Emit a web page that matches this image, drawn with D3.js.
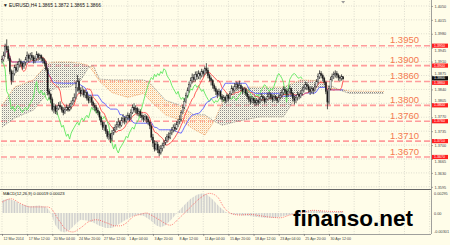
<!DOCTYPE html>
<html><head><meta charset="utf-8">
<script src="https://cdn.jsdelivr.net/npm/d3@7"></script>
<style>
html,body{margin:0;padding:0;background:#fffde9;}
svg{display:block;}
text{font-family:"Liberation Sans",Arial,sans-serif;}
</style></head><body>
<svg id="c" width="450" height="245"></svg>
<script>
// ---------------- DATA (prices in pips: 1 + v/10000) ----------------
const timeLabels = ["12 Mar 2014","17 Mar 12:00","20 Mar 04:00","24 Mar 20:00","27 Mar 12:00","1 Apr 04:00","3 Apr 20:00","8 Apr 12:00","11 Apr 04:00","15 Apr 20:00","18 Apr 12:00","23 Apr 04:00","25 Apr 20:00","30 Apr 12:00"];
const timeLabelBars = [0,16,32,48,64,80,96,112,128,144,160,176,192,208];
const gridBars = [0,16,32,48,64,80,96,112,128,144,160,176,192,208,224,240,256,272];
const priceTicks = ["1.4050","1.4015","1.3980","1.3945","1.3910","1.3875","1.3840","1.3805","1.3770","1.3735","1.3700","1.3665","1.3630","1.3595"];
const levels = ["1.3950","1.3900","1.3860","1.3800","1.3760","1.3710","1.3670"];
const lastPrice = "1.3866";
const header = "\u25BC EURUSD,H4  1.3865 1.3872 1.3865 1.3866";
const firstOpen = 3910;
const closes = [3915,3925,3948,3940,3918,3885,3862,3880,
 3895,3888,3902,3910,3905,3898,3906,3915,
 3925,3918,3926,3920,3912,3918,3928,3920,3925,3918,3912,3905,
 3890,3835,3828,3815,
 3790,3798,3785,3792,3800,3796,3788,3782,3790,3795,3788,3796,3805,3812,3820,
 3845,3860,3838,3830,
 3838,3826,3832,3818,3812,3820,3808,3800,3795,3788,3782,3770,
 3758,3745,3750,3735,3722,3728,3715,3730,3738,3745,
 3752,3758,3750,3762,3768,3760,3770,3775,3768,
 3782,3795,3788,3792,3780,3785,3775,
 3770,3765,3772,3765,3758,3748,3720,3705,
 3690,3702,3688,3680,3692,3698,3705,3712,
 3722,3718,3730,3738,3745,3740,3752,3758,3765,
 3782,3795,3810,3825,3838,3852,3862,
 3870,3865,3878,3872,3880,3875,3885,3880,3892,3888,3875,3868,
 3862,3850,3842,3835,3828,3835,3822,3815,3820,3812,3825,3818,3830,
 3842,3838,3848,3852,3845,3850,3842,3835,3840,3830,
 3822,3815,3810,3818,3812,3806,3812,3808,3815,
 3822,3818,3810,3815,3822,3828,3820,3815,3822,3818,3812,3820,3825,
 3832,3840,3835,3828,3835,3842,3830,3818,3812,3820,3828,3822,3830,
 3838,3845,3852,3848,3840,3835,3842,3838,3848,
 3860,3872,3880,3875,3868,3858,
 3835,3808,3842,
 3865,3872,3878,3880,3876,3870,3868,3872,3866];
const highs = [3925,3935,3955,3966,3950,3925,3890,3888,
 3902,3905,3910,3918,3915,3910,3912,3922,
 3935,3930,3932,3934,3926,3925,3936,3932,3930,3928,3922,3918,
 3912,3895,3842,3832,
 3820,3805,3802,3800,3808,3810,3800,3795,3796,3802,3800,3805,3812,3820,3830,
 3860,3876,3868,3845,
 3848,3842,3838,3835,3825,3826,3824,3812,3806,3800,3794,3786,
 3774,3762,3758,3752,3740,3735,3730,3738,3745,3752,
 3760,3768,3762,3770,3778,3772,3776,3782,3780,
 3790,3802,3805,3800,3796,3792,3790,
 3782,3776,3778,3775,3770,3762,3752,3728,
 3712,3710,3708,3698,3700,3706,3712,3720,
 3728,3732,3738,3745,3752,3755,3760,3766,3775,
 3788,3802,3818,3832,3845,3860,3870,
 3880,3878,3885,3886,3888,3885,3892,3890,3898,3906,3895,3880,
 3872,3866,3855,3848,3840,3842,3838,3828,3826,3824,3830,3828,3836,
 3850,3848,3856,3860,3858,3862,3855,3848,3846,3844,
 3835,3828,3822,3824,3820,3818,3818,3816,3822,
 3830,3826,3822,3820,3832,3835,3832,3826,3828,3826,3822,3826,3834,
 3840,3848,3846,3840,3842,3850,3845,3834,3824,3826,3835,3832,3838,
 3846,3852,3860,3858,3852,3846,3848,3846,3855,
 3866,3880,3888,3886,3880,3872,
 3862,3840,3850,
 3872,3880,3885,3888,3886,3880,3875,3878,3872];
const lows = [3905,3910,3922,3935,3912,3878,3852,3858,
 3875,3882,3884,3895,3896,3890,3892,3900,
 3910,3908,3912,3914,3905,3906,3912,3912,3914,3910,3905,3898,
 3885,3825,3815,3805,
 3785,3780,3778,3776,3788,3790,3782,3775,3778,3786,3784,3785,3790,3800,3808,
 3815,3835,3830,3822,
 3825,3820,3818,3812,3805,3806,3800,3792,3785,3780,3775,3762,
 3750,3738,3736,3728,3716,3712,3705,3710,3725,3732,
 3738,3744,3742,3746,3755,3752,3755,3762,3760,
 3764,3778,3782,3780,3774,3772,3768,
 3762,3758,3760,3755,3750,3740,3712,3695,
 3684,3686,3680,3672,3676,3684,3692,3700,
 3706,3712,3715,3725,3732,3734,3738,3745,3752,
 3760,3778,3790,3805,3820,3832,3845,
 3855,3858,3860,3864,3866,3865,3870,3872,3876,3880,3868,3860,
 3850,3842,3835,3826,3818,3822,3815,3808,3810,3805,3808,3810,3815,
 3826,3830,3834,3840,3838,3842,3836,3828,3830,3824,
 3815,3808,3802,3805,3804,3798,3800,3800,3804,
 3810,3810,3804,3806,3812,3815,3814,3808,3810,3812,3806,3808,3815,
 3818,3826,3828,3820,3822,3830,3822,3810,3802,3806,3812,3815,3818,
 3825,3832,3840,3838,3832,3826,3830,3828,3834,
 3845,3855,3866,3868,3860,3850,
 3828,3790,3802,
 3838,3860,3866,3870,3868,3862,3860,3862,3865];

// Ichimoku cloud (Senkou spans) at sample bars
const spanBars = [0,8,20,29,34,43,50,55,58,62,70,80,90,94,104,113,122,129,135,140,150,164,179,190,202,210,215,221,243];
const spanA = [3800,3846,3864,3906,3909,3909,3906,3900,3885,3860,3832,3820,3830,3813,3776,3763,3740,3725,3760,3806,3846,3846,3846,3864,3862,3842,3840,3836,3835];
const spanB = [3745,3768,3788,3831,3844,3846,3862,3895,3901,3866,3864,3864,3864,3856,3813,3800,3776,3776,3760,3750,3760,3771,3771,3839,3845,3848,3838,3830,3830];

// MACD (12,26,9), values x 1e-4, read at sample bars
const histBars = [0,4,8,12,18,24,28,30,32,34,37,40,43,47,50,54,58,62,66,70,74,78,82,86,90,94,98,101,104,108,112,116,120,124,127,130,134,138,142,146,150,156,162,168,174,180,186,192,198,204,208,212,217];
const histVals = [19,21,18,13,10,11,9,4,-6,-18,-27,-29,-25,-16,-10,-11,-14,-19,-22,-22,-17,-11,-6,-3,-4,-10,-18,-21,-18,-9,2,12,21,27,29,28,20,10,2,-2,-3,-4,-6,-7,-7,-4,-1,3,4,3,1,2,3];
const sigBars = [0,6,11,18,29,31,36,41,45,50,55,60,67,72,75,80,83,88,92,94,100,107,113,120,126,132,137,141,145,151,158,164,170,177,183,190,198,204,215,217];
const sigVals = [16,21,15,9,9,7,-10,-25,-28,-22,-13,-10,-15,-19,-19,-13,-6,-2,0,-2,-10,-18,-7,9,22,29,24,9,0,-3,-2,-4,-6,-7,-3,0,4,3,2,2];
const macdLabel = "MACD(12,26,9) 0.00019 0.00023";
const macdTicks = ["0.00295","0.00","-0.00301"];

// ---------------- CHART ----------------
const W = 450, H = 245;
const svg = d3.select("#c");
const P = v => 1 + v / 10000;
const bg = "#fffde9";
svg.append("rect").attr("width", W).attr("height", H).attr("fill", bg);

const px0 = 1, px1 = 431, py0 = 1, py1 = 189, my0 = 190, my1 = 234;
const x = d3.scaleLinear().domain([0, 273]).range([2, 431.2]);
const y = d3.scaleLinear().domain([1.3950, 1.3670]).range([45.7, 157]);
const ym = d3.scaleLinear().domain([-0.003, 0.003]).range([233.3, 192.7]);

const defs = svg.append("defs");
defs.append("clipPath").attr("id", "cm").append("rect").attr("x", px0).attr("y", py0).attr("width", px1 - px0).attr("height", py1 - py0);
defs.append("clipPath").attr("id", "cmacd").append("rect").attr("x", px0).attr("y", my0).attr("width", px1 - px0).attr("height", my1 - my0);
const pg = defs.append("pattern").attr("id", "pgray").attr("patternUnits", "userSpaceOnUse").attr("width", 2).attr("height", 2);
pg.append("rect").attr("x", 0).attr("y", 0).attr("width", 1).attr("height", 1).attr("fill", "#8c8c8c");
pg.append("rect").attr("x", 1).attr("y", 1).attr("width", 1).attr("height", 1).attr("fill", "#dcdcd2");
const po = defs.append("pattern").attr("id", "porange").attr("patternUnits", "userSpaceOnUse").attr("width", 2).attr("height", 2);
po.append("rect").attr("x", 0).attr("y", 0).attr("width", 1).attr("height", 1).attr("fill", "#f5b27c");
po.append("rect").attr("x", 1).attr("y", 1).attr("width", 1).attr("height", 1).attr("fill", "#fbe3c8");
const ph = defs.append("pattern").attr("id", "phist").attr("patternUnits", "userSpaceOnUse").attr("width", 1.572).attr("height", 4);
ph.append("rect").attr("x", 0).attr("y", 0).attr("width", 0.9).attr("height", 4).attr("fill", "#cbcbcb");

// grid
const grid = svg.append("g").attr("stroke", "#c9c9c0").attr("stroke-width", 0.6).attr("stroke-dasharray", "1,1.5");
grid.selectAll("line.h").data(priceTicks).join("line")
  .attr("x1", px0).attr("x2", px1).attr("y1", d => y(+d)).attr("y2", d => y(+d));
grid.selectAll("line.v").data(gridBars).join("line")
  .attr("x1", d => x(d)).attr("x2", d => x(d)).attr("y1", py0).attr("y2", my1);

const main = svg.append("g").attr("clip-path", "url(#cm)");

// level lines
main.selectAll("line.lvl").data(levels).join("line")
  .attr("x1", px0).attr("x2", px1).attr("y1", d => y(+d)).attr("y2", d => y(+d))
  .attr("stroke", "#ff9c9c").attr("stroke-width", 1.6).attr("stroke-dasharray", "6,3");

// cloud
const cloud = spanBars.map((b, i) => ({ b, a: P(spanA[i]), s: P(spanB[i]) }));
const aboveB = d3.area().x(d => x(d.b)).y0(0).y1(d => y(d.s));
const belowB = d3.area().x(d => x(d.b)).y0(300).y1(d => y(d.s));
defs.append("clipPath").attr("id", "cab").append("path").attr("d", aboveB(cloud));
defs.append("clipPath").attr("id", "cbb").append("path").attr("d", belowB(cloud));
const between = d3.area().x(d => x(d.b)).y0(d => y(d.s)).y1(d => y(d.a));
main.append("g").attr("clip-path", "url(#cab)").append("path").attr("d", between(cloud)).attr("fill", "url(#pgray)");
main.append("g").attr("clip-path", "url(#cbb)").append("path").attr("d", between(cloud)).attr("fill", "url(#porange)");
main.append("path").attr("d", d3.line().x(d => x(d.b)).y(d => y(d.a))(cloud))
  .attr("fill", "none").attr("stroke", "#eca26a").attr("stroke-width", 0.7).attr("stroke-dasharray", "1.5,1");
main.append("path").attr("d", d3.line().x(d => x(d.b)).y(d => y(d.s))(cloud))
  .attr("fill", "none").attr("stroke", "#8a8a8a").attr("stroke-width", 0.7).attr("stroke-dasharray", "1.5,1");

// Ichimoku lines computed from the candles
const n = closes.length;
const mid = (i, len) => {
  const s = Math.max(0, i - len + 1);
  return (d3.max(highs.slice(s, i + 1)) + d3.min(lows.slice(s, i + 1))) / 2;
};
const tenkan = d3.range(n).map(i => ({ b: i, v: P(mid(i, 9)) }));
const kijun = d3.range(n).map(i => ({ b: i, v: P(mid(i, 26)) }));
const chikou = d3.range(26, n).map(i => ({ b: i - 26, v: P(closes[i]) }));
const ln = d3.line().x(d => x(d.b)).y(d => y(d.v));
main.append("path").attr("d", ln(chikou)).attr("fill", "none").attr("stroke", "#5ee85e").attr("stroke-width", 0.9);
main.append("path").attr("d", ln(kijun)).attr("fill", "none").attr("stroke", "#5a5aff").attr("stroke-width", 0.9);
main.append("path").attr("d", ln(tenkan)).attr("fill", "none").attr("stroke", "#ff4a4a").attr("stroke-width", 0.9);

// candles
const candles = closes.map((c, i) => ({ i, o: P(i === 0 ? firstOpen : closes[i - 1]), c: P(c), h: P(highs[i]), l: P(lows[i]) }));
const cg = main.append("g");
cg.selectAll("line").data(candles).join("line")
  .attr("x1", d => x(d.i)).attr("x2", d => x(d.i)).attr("y1", d => y(d.h)).attr("y2", d => y(d.l))
  .attr("stroke", "#2a2a2a").attr("stroke-width", 0.8);
cg.selectAll("rect").data(candles).join("rect")
  .attr("x", d => x(d.i) - 0.6).attr("width", 1.2)
  .attr("y", d => y(Math.max(d.o, d.c))).attr("height", d => Math.max(0.6, Math.abs(y(d.o) - y(d.c))))
  .attr("fill", d => d.c >= d.o ? "#fff" : "#111").attr("stroke", "#2a2a2a").attr("stroke-width", 0.4);

// level labels
main.selectAll("text.lvl").data(levels).join("text")
  .attr("x", 419).attr("y", d => y(+d) - 2.5).attr("text-anchor", "end")
  .attr("font-size", 9.5).attr("fill", "#f47a50").text(d => d);

// chart shift marker
svg.append("path").attr("d", `M${x(217) - 2},1 L${x(217) + 2},1 L${x(217)},3.5 Z`).attr("fill", "#999");

// header
svg.append("text").attr("x", 3).attr("y", 6.5).attr("font-size", 4.8).attr("fill", "#111").text(header);

// box positions (last price box above the 1.3860 box, as in the picture)
const boxH = 4.2;
const boxY = levels.map(d => y(+d) - boxH / 2);
const lastY = y(+lastPrice) - boxH / 2 - 0.8;
boxY[2] = lastY + boxH + 0.3;
const boxCenters = boxY.map(v => v + boxH / 2).concat([lastY + boxH / 2]);

// right price axis, nudging tick labels off the boxes
const ax = svg.append("g").attr("transform", `translate(${px1},0)`)
  .call(d3.axisRight(y).tickValues(priceTicks.map(Number)).tickFormat(d3.format(".4f")).tickSize(2).tickPadding(1.5));
ax.select(".domain").remove();
ax.selectAll("line").attr("stroke", "#555").attr("stroke-width", 0.5);
ax.selectAll("text").attr("font-size", 3.8).attr("fill", "#444").attr("font-family", "Liberation Sans, Arial")
  .attr("y", d => {
    const yy = y(d);
    let shift = 0;
    boxCenters.forEach(c => {
      const dd = yy - c;
      if (Math.abs(dd) < 4.6) shift = (dd >= 0 ? 4.6 - dd : -(4.6 + dd));
    });
    return shift;
  });

// red level boxes
const boxes = svg.append("g");
boxes.selectAll("rect").data(levels).join("rect")
  .attr("x", px1 + 1).attr("y", (d, i) => boxY[i]).attr("width", 16).attr("height", boxH).attr("fill", "#ff2020");
boxes.selectAll("text").data(levels).join("text")
  .attr("x", px1 + 3).attr("y", (d, i) => boxY[i] + 3.2).attr("font-size", 3.6).attr("fill", "#fff").text(d => d);
svg.append("rect").attr("x", px1 + 1).attr("y", lastY).attr("width", 16).attr("height", boxH).attr("fill", "#111");
svg.append("text").attr("x", px1 + 3).attr("y", lastY + 3.2).attr("font-size", 3.6).attr("fill", "#fff").text(lastPrice);

// MACD panel
const mg = svg.append("g").attr("clip-path", "url(#cmacd)");
const hist = histBars.map((b, i) => ({ b, v: histVals[i] / 10000 }));
mg.append("path").attr("d", d3.area().x(d => x(d.b)).y0(ym(0)).y1(d => ym(d.v))(hist)).attr("fill", "url(#phist)");
const sig = sigBars.map((b, i) => ({ b, v: sigVals[i] / 10000 }));
mg.append("path").attr("d", d3.line().x(d => x(d.b)).y(d => ym(d.v)).curve(d3.curveMonotoneX)(sig))
  .attr("fill", "none").attr("stroke", "#ff4040").attr("stroke-width", 0.8).attr("stroke-dasharray", "0.8,1.2");
svg.append("text").attr("x", 3).attr("y", 195).attr("font-size", 4.2).attr("fill", "#111").text(macdLabel);
const mt = svg.append("g");
mt.selectAll("text").data(macdTicks).join("text")
  .attr("x", px1 + 3).attr("y", (d, i) => [194.5, 214.5, 233][i]).attr("font-size", 3.8).attr("fill", "#444").text(d => d);

// frames
svg.append("line").attr("x1", 0).attr("x2", px1).attr("y1", 189.5).attr("y2", 189.5).attr("stroke", "#666").attr("stroke-width", 1);
svg.append("line").attr("x1", 0).attr("x2", px1).attr("y1", my1 + 0.5).attr("y2", my1 + 0.5).attr("stroke", "#888").attr("stroke-width", 0.8);
svg.append("line").attr("x1", px1 + 0.5).attr("x2", px1 + 0.5).attr("y1", 0).attr("y2", my1).attr("stroke", "#888").attr("stroke-width", 0.8);

// time axis
const tx = svg.append("g").attr("transform", `translate(0,${my1})`)
  .call(d3.axisBottom(x).tickValues(timeLabelBars).tickFormat((d, i) => timeLabels[i]).tickSize(2).tickPadding(1));
tx.select(".domain").remove();
tx.selectAll("line").attr("stroke", "#555").attr("stroke-width", 0.5);
tx.selectAll("text").attr("font-size", 3.6).attr("fill", "#444").attr("text-anchor", "start").attr("dx", 1).attr("font-family", "Liberation Sans, Arial");

// watermark
svg.append("text").attr("x", 293).attr("y", 225.5).attr("font-family", "DejaVu Sans, sans-serif")
  .attr("font-weight", "bold").attr("font-size", 22.5).attr("fill", "#000").text("finanso.net");
</script>
</body></html>
